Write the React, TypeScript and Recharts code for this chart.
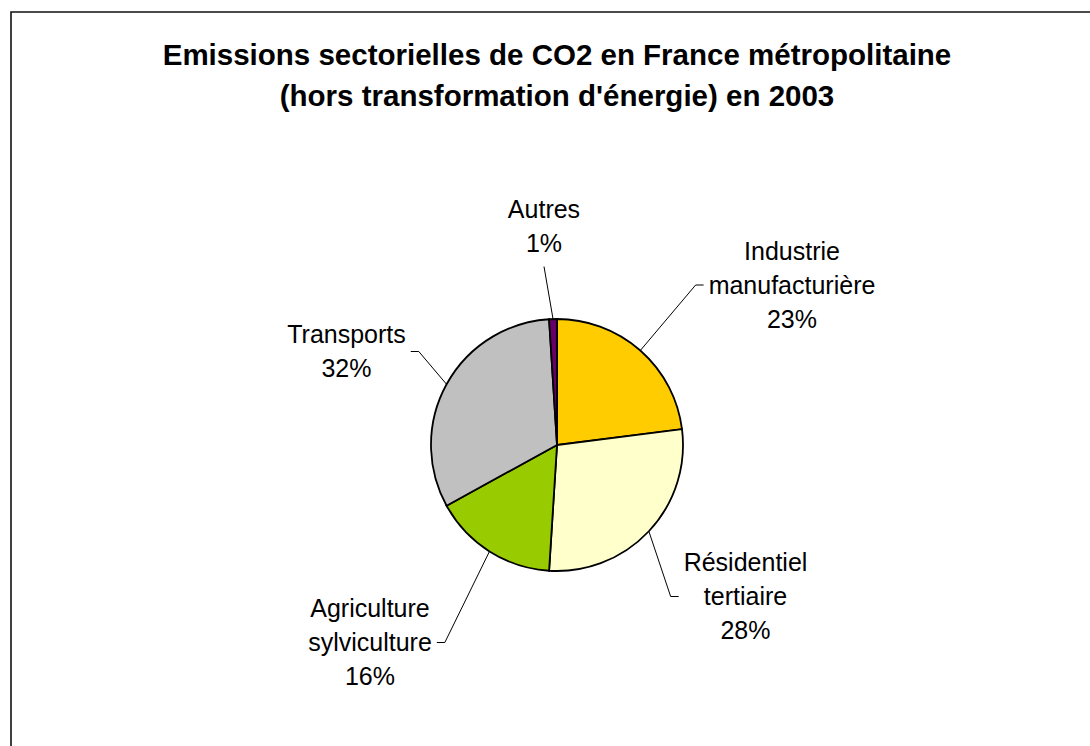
import { Cell, Pie, PieChart } from "recharts";

// sectors, clockwise from 12 o'clock
const categories = [
  "Industrie\nmanufacturière",
  "Résidentiel\ntertiaire",
  "Agriculture\nsylviculture",
  "Transports",
  "Autres",
];
const shares = [23, 28, 16, 32, 1];
const colors = ["#FFCC00", "#FFFFCC", "#99CC00", "#C0C0C0", "#660066"];

const titleLines = [
  "Emissions sectorielles de CO2 en France métropolitaine",
  "(hors transformation d'énergie) en 2003",
];

// labels were dragged by hand in the original sheet: block centre relative to pie centre
const labelPlacement = [
  { dx: 235, dy: -160, side: "left" },
  { dx: 188.5, dy: 151.5, side: "left" },
  { dx: -187, dy: 197.5, side: "right" },
  { dx: -210.5, dy: -93.5, side: "right" },
  { dx: -13, dy: -218.5, side: "bottom" },
];

const W = 1090;
const H = 746;
const FONT_FAMILY = "'Liberation Sans', Arial, sans-serif";
const LABEL_SIZE = 25;
const LINE_H = 34;
const RAD = Math.PI / 180;

const rows = categories.map((name, i) => ({ name, value: shares[i] }));

let ctx: CanvasRenderingContext2D | null = null;
function textWidth(s: string) {
  if (!ctx) ctx = document.createElement("canvas").getContext("2d");
  if (!ctx) return s.length * 12;
  ctx.font = `${LABEL_SIZE}px ${FONT_FAMILY}`;
  return ctx.measureText(s).width;
}

function SliceLabel(props: any) {
  const { cx, cy, midAngle, outerRadius, percent, name } = props;
  let i = typeof props.index === "number" ? props.index : categories.indexOf(name);
  if (i < 0) i = 0;
  const place = labelPlacement[i];
  const lines = [...categories[i].split("\n"), `${Math.round(percent * 100)}%`];
  const n = lines.length;
  const tx = cx + place.dx;
  const ty = cy + place.dy;
  const w = Math.max(...lines.map(textWidth));

  const ex = cx + outerRadius * Math.cos(-midAngle * RAD);
  const ey = cy + outerRadius * Math.sin(-midAngle * RAD);

  let pts: number[][];
  if (place.side === "left") {
    const x0 = tx - w / 2 - 5;
    pts = [[ex, ey], [x0 - 8, ty], [x0, ty]];
  } else if (place.side === "right") {
    const x0 = tx + w / 2 + 5;
    pts = [[ex, ey], [x0 + 8, ty], [x0, ty]];
  } else {
    pts = [[ex, ey], [tx, ty + (n * LINE_H) / 2 + 6]];
  }

  return (
    <g>
      <polyline
        points={pts.map((p) => p.join(",")).join(" ")}
        fill="none"
        stroke="#000"
        strokeWidth={1}
      />
      <text
        textAnchor="middle"
        fontFamily={FONT_FAMILY}
        fontSize={LABEL_SIZE}
        fill="#000"
      >
        {lines.map((line, k) => (
          <tspan key={k} x={tx} y={ty + (k - (n - 1) / 2) * LINE_H + LABEL_SIZE * 0.35}>
            {line}
          </tspan>
        ))}
      </text>
    </g>
  );
}

export default function App() {
  return (
    <div
      style={{
        position: "absolute",
        left: 0,
        top: 0,
        width: W,
        height: H,
        overflow: "hidden",
        background: "#fff",
      }}
    >
      <PieChart width={W} height={H} margin={{ top: 0, right: 0, bottom: 0, left: 0 }}>
        <Pie
          data={rows}
          dataKey="value"
          nameKey="name"
          cx={557}
          cy={445}
          outerRadius={126}
          startAngle={90}
          endAngle={-270}
          stroke="#000"
          strokeWidth={1.8}
          label={SliceLabel}
          labelLine={false}
          isAnimationActive={false}
        >
          {rows.map((r, i) => (
            <Cell key={r.name} fill={colors[i]} />
          ))}
        </Pie>
      </PieChart>
      <svg
        width={W}
        height={H}
        style={{ position: "absolute", left: 0, top: 0, pointerEvents: "none" }}
      >
        <polyline points={`11,${H} 11,12 ${W},12`} fill="none" stroke="#111" strokeWidth={1.6} />
        <text
          textAnchor="middle"
          fontFamily={FONT_FAMILY}
          fontWeight="bold"
          fontSize={29.5}
          fill="#000"
        >
          {titleLines.map((t, k) => (
            <tspan key={k} x={557} y={65 + k * 41}>
              {t}
            </tspan>
          ))}
        </text>
      </svg>
    </div>
  );
}
